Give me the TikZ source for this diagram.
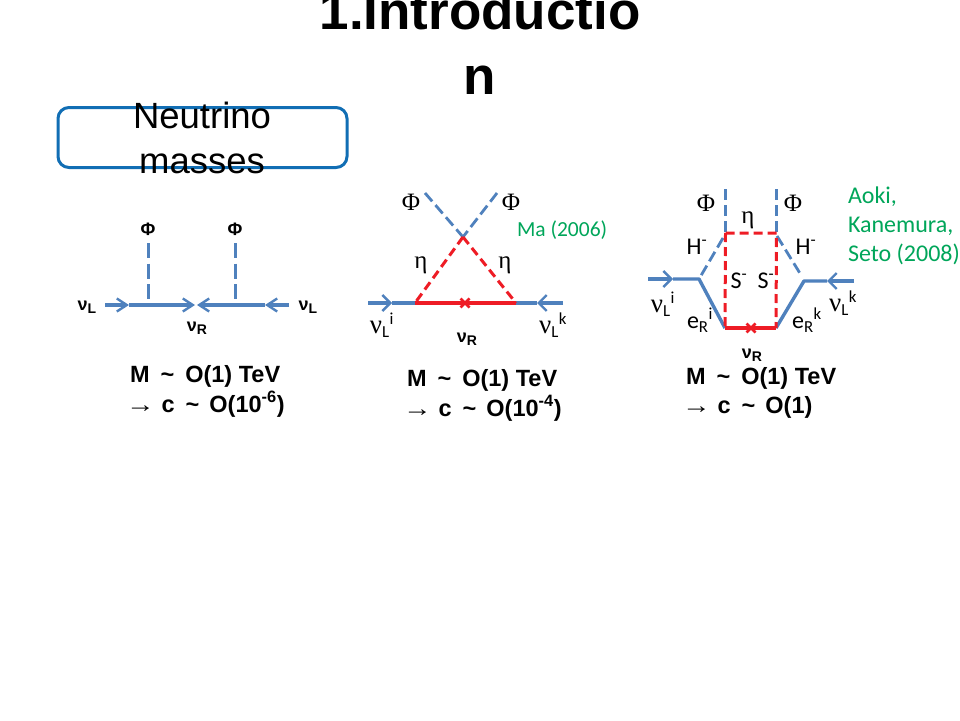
\documentclass[tikz,border=0pt]{standalone}
\usepackage{fontspec}
\usepackage{graphicx}
\setmainfont{Liberation Sans}
\newfontfamily\calfam{Carlito}
\newfontfamily\serfam{Liberation Serif}
\usetikzlibrary{arrows.meta,calc}
\definecolor{blu}{RGB}{79,129,189}
\definecolor{rd}{RGB}{238,28,37}
\definecolor{grn}{RGB}{0,166,90}
\definecolor{boxb}{RGB}{17,110,180}
\tikzset{
 x=1pt,y=-1pt,
 every node/.style={inner sep=0pt,outer sep=0pt},
 solidb/.style={draw=blu,line width=3.4pt},
 dashb/.style={draw=blu,line width=3.4pt,dash pattern=on 15pt off 5.5pt},
 dashc/.style={draw=blu,line width=2.8pt,dash pattern=on 11pt off 5pt},
 solidr/.style={draw=rd,line width=3.4pt},
 dashr/.style={draw=rd,line width=3pt,dash pattern=on 9pt off 5pt},
 chev/.style={-{Straight Barb[length=10pt,width=13pt,line width=2.4pt]}},
 chevb/.style={-{Straight Barb[length=8pt,width=16pt,line width=2.4pt]}},
 title/.style={font=\fontsize{53}{65}\selectfont\bfseries,anchor=base},
 boxlab/.style={font=\fontsize{36.5}{46}\selectfont,anchor=base},
 small/.style={font=\fontsize{18}{20}\selectfont\bfseries,anchor=base},
 res/.style={font=\fontsize{23.5}{29}\selectfont\bfseries,anchor=base west},
 cite/.style={font=\fontsize{24}{29}\selectfont\calfam,text=grn,anchor=base west},
 citem/.style={font=\fontsize{21.5}{29}\selectfont\calfam,text=grn,anchor=base west},
 sym/.style={font=\fontsize{25}{30}\selectfont\serfam,anchor=center},
 lab/.style={font=\fontsize{24}{28}\selectfont\calfam,anchor=center},
}
\newcommand{\tild}{\textasciitilde}
\newcommand{\Mline}[1]{M\hspace{11pt}\tild\hspace{11pt}#1}
\newcommand{\Cline}[1]{\hspace{-4pt}\scalebox{1.22}[1]{→}\hspace{7pt}c\hspace{11pt}\tild\hspace{10pt}#1}
\newcommand{\nuL}[1]{{\serfam\fontsize{27}{28}\selectfont ν}\textsubscript{\calfam L}\textsuperscript{\calfam #1}}
\newcommand{\nusub}[1]{ν\raisebox{-3pt}{\fontsize{14}{16}\selectfont #1}}
\begin{document}
\begin{tikzpicture}
\useasboundingbox (0,0) rectangle (960,720);
\fill[white] (0,0) rectangle (960,720);
% title
\node[title] (t1) at (480,29) {1.Introductio};
\node[title] (t2) at (480,94) {n};
% box
\draw[boxb,line width=3pt,rounded corners=11pt] (58,107.5) rectangle (347,167.5);
\node[boxlab] (b1) at (202,128) {Neutrino};
\node[boxlab] (b2) at (202,173) {masses};
% diagram 1
\coordinate (a0) at (105,305); \coordinate (a1) at (129,305); \coordinate (a2) at (148.5,303);
\coordinate (a3) at (195,305); \coordinate (a4) at (197,305); \coordinate (a5) at (235.5,303);
\coordinate (a6) at (265,305); \coordinate (a7) at (289,305);
\coordinate (a8) at (148.5,243); \coordinate (a9) at (235.5,243);
\draw[solidb,chev] (a0)--(a1);
\draw[solidb,chev] (a1)--(a3);
\draw[solidb,chev] (a6)--(a4);
\draw[solidb,chev] (a7)--(a6);
\draw[dashb] (a8)--(a2);
\draw[dashb] (a9)--(a5);
\node[small] (p1) at (148,235) {Φ};
\node[small] (p2) at (235,235) {Φ};
\node[small] (n1) at (87,310) {\nusub{L}};
\node[small] (n2) at (308,310) {\nusub{L}};
\node[small] (n3) at (197,331) {\nusub{R}};
\node[res] (m1) at (130,382) {\Mline{O(1) TeV}};
\node[res] (m2) at (130,412) {\Cline{O(10\textsuperscript{-6})}};
% diagram 2
\coordinate (c0) at (368,303); \coordinate (c1) at (392,303); \coordinate (c2) at (415,303);
\coordinate (c3) at (516,303); \coordinate (c4) at (537,303); \coordinate (c5) at (563,303);
\coordinate (c6) at (463,237); \coordinate (c7) at (425,193); \coordinate (c8) at (497,193);
\coordinate (cx) at (465,303);
\draw[solidb,chevb] (c0)--(c1);
\draw[solidb] (c1)--(c2);
\draw[solidb,chevb] (c5)--(c4);
\draw[solidb] (c4)--(c3);
\draw[solidr] (c2)--(c3);
\draw[dashc] (c7)--(c6);
\draw[dashc] (c8)--(c6);
\draw[dashr] (c6)--(c2);
\draw[dashr] (c6)--(c3);
\draw[rd,line width=2.6pt] ($(cx)+(-4.5,-4.5)$)--($(cx)+(4.5,4.5)$) ($(cx)+(-4.5,4.5)$)--($(cx)+(4.5,-4.5)$);
\node[sym] (f1) at (411,202) {Φ};
\node[sym] (f2) at (511,202) {Φ};
\node[sym] (e1) at (421,265) {η};
\node[sym] (e2) at (505,265) {η};
\node[lab] (l1) at (382,325) {\nuL{i}};
\node[lab] (l2) at (553,325) {\nuL{k}};
\node[small] (n4) at (467,342) {\nusub{R}};
\node[citem] (ma) at (517,236) {Ma (2006)};
\node[res] (m3) at (407,386) {\Mline{O(1) TeV}};
\node[res] (m4) at (407,416) {\Cline{O(10\textsuperscript{-4})}};
% diagram 3
\coordinate (d0) at (648,279); \coordinate (d1) at (673,279); \coordinate (d2) at (699,279);
\coordinate (d3) at (725,328); \coordinate (d4) at (776,328); \coordinate (d5) at (804,281);
\coordinate (d6) at (827,281); \coordinate (d7) at (854,281);
\coordinate (d8) at (725.5,233); \coordinate (d9) at (776.5,233);
\coordinate (d10) at (725.5,189); \coordinate (d11) at (776.5,189);
\coordinate (d12) at (723,238); \coordinate (d13) at (801,275); \coordinate (d14) at (777,236);
\coordinate (dx) at (751,328);
\draw[solidb,chevb] (d0)--(d1);
\draw[solidb,line join=round] (d1)--(d2)--(d3);
\draw[solidb,chevb] (d7)--(d6);
\draw[solidb,line join=round] (d6)--(d5)--(d4);
\draw[solidr] (d3)--(d4);
\draw[dashc] (d10)--(d8);
\draw[dashc] (d11)--(d9);
\draw[dashc] (d12)--(d2);
\draw[dashc] (d14)--(d13);
\draw[dashr] (d8)--(d9)--(d4);
\draw[dashr] (d8)--(d3);
\draw[rd,line width=2.6pt] ($(dx)+(-4.5,-4.5)$)--($(dx)+(4.5,4.5)$) ($(dx)+(-4.5,4.5)$)--($(dx)+(4.5,-4.5)$);
\node[sym] (f3) at (706,203) {Φ};
\node[sym] (f4) at (793,203) {Φ};
\node[sym] (e3) at (748,220) {η};
\node[lab] (h1) at (697,247) {H\textsuperscript{-}};
\node[lab] (h2) at (806,247) {H\textsuperscript{-}};
\node[lab] (s1) at (739,281) {S\textsuperscript{-}};
\node[lab] (s2) at (766,281) {S\textsuperscript{-}};
\node[lab] (l3) at (663,304) {\nuL{i}};
\node[lab] (l4) at (843,303) {\nuL{k}};
\node[lab] (r1) at (700,320) {e\textsubscript{R}\textsuperscript{i}};
\node[lab] (r2) at (807,320) {e\textsubscript{R}\textsuperscript{k}};
\node[small] (n5) at (752,358) {\nusub{R}};
\node[res] (m5) at (686,384) {\Mline{O(1) TeV}};
\node[res] (m6) at (686,413) {\Cline{O(1)}};
\node[cite] (a1t) at (848,203) {Aoki,};
\node[cite] (a2t) at (848,232) {Kanemura,};
\node[cite] (a3t) at (848,261) {Seto (2008)};
\end{tikzpicture}
\end{document}
